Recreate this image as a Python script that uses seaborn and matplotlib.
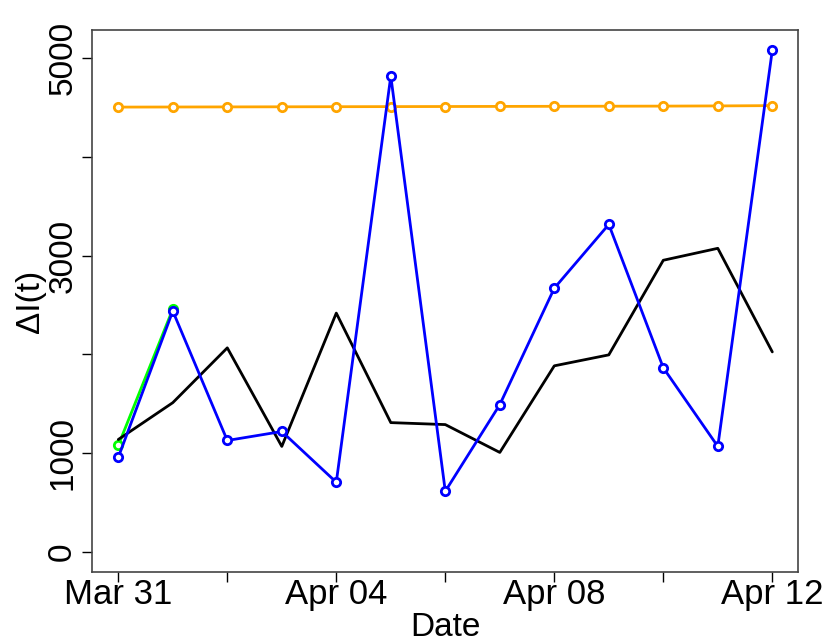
import pandas as pd
import numpy as np
import matplotlib
matplotlib.use("Agg")
import matplotlib.pyplot as plt
import seaborn as sns

# dates on the x axis
dates = ["2020-03-31", "2020-04-01", "2020-04-02", "2020-04-03", "2020-04-04",
         "2020-04-05", "2020-04-06", "2020-04-07", "2020-04-08", "2020-04-09",
         "2020-04-10", "2020-04-11", "2020-04-12"]

# series
black_vals = [1139, 1512, 2067, 1069, 2419, 1310, 1290, 1008, 1885, 1996, 2954, 3075, 2026]
blue_vals = [958, 2440, 1129, 1220, 706, 4819, 615, 1492, 2671, 3317, 1865, 1069, 5081]
green_vals = [1079, 2460]
orange_vals = [4505, 4506, 4507, 4508, 4509, 4510, 4511, 4512, 4513, 4514, 4515, 4517, 4520]

y_ticks = [0, 1000, 2000, 3000, 4000, 5000]
y_labels = ["0", "1000", "", "3000", "", "5000"]
x_tick_dates = ["2020-03-31", "2020-04-02", "2020-04-04", "2020-04-06",
                "2020-04-08", "2020-04-10", "2020-04-12"]
x_labels = ["Mar 31", "", "Apr 04", "", "Apr 08", "", "Apr 12"]

sns.set_style("white")
plt.rcParams['font.family'] = ['Liberation Sans', 'DejaVu Sans']
plt.rcParams['text.color'] = 'black'
plt.rcParams['axes.labelcolor'] = 'black'
plt.rcParams['xtick.color'] = 'black'
plt.rcParams['ytick.color'] = 'black'

d = pd.to_datetime(dates)
df = pd.DataFrame({'date': d, 'black': black_vals, 'blue': blue_vals, 'orange': orange_vals})
df_green = pd.DataFrame({'date': d[:len(green_vals)], 'green': green_vals})

fig = plt.figure(figsize=(8.3, 6.42), dpi=100)
ax = fig.add_axes([0.111, 0.109, 0.851, 0.844])

marker_kw = dict(marker='o', markersize=6, markerfacecolor='white', markeredgewidth=2)

sns.lineplot(data=df, x='date', y='orange', color='orange', linewidth=2, ax=ax,
             markeredgecolor='orange', **marker_kw)
sns.lineplot(data=df_green, x='date', y='green', color='#00ff00', linewidth=2, ax=ax,
             markeredgecolor='#00ff00', **marker_kw)
sns.lineplot(data=df, x='date', y='black', color='black', linewidth=2, ax=ax)
sns.lineplot(data=df, x='date', y='blue', color='#0000ff', linewidth=2, ax=ax,
             markeredgecolor='#0000ff', **marker_kw)

# R style axis ranges (4% padding)
span = d[-1] - d[0]
ax.set_xlim(d[0] - span * 0.04, d[-1] + span * 0.04)
ax.set_ylim(-203, 5284)

ax.set_yticks(y_ticks)
ax.set_yticklabels(y_labels, rotation=90, va='center', fontsize=24)
ax.set_xticks(pd.to_datetime(x_tick_dates))
ax.set_xticklabels(x_labels, fontsize=25)

ax.tick_params(axis='both', direction='out', length=7, width=1, color='black', left=True, bottom=True)
ax.tick_params(axis='x', pad=-3)
ax.tick_params(axis='y', pad=3)

for s in ax.spines.values():
    s.set_color('#444444')
    s.set_linewidth(1.2)

ax.set_xlabel('Date', fontsize=24, labelpad=1)
ax.set_ylabel('ΔI(t)', fontsize=24)
ax.yaxis.set_label_coords(-0.066, 0.5)

fig.savefig('out.png', dpi=100)
